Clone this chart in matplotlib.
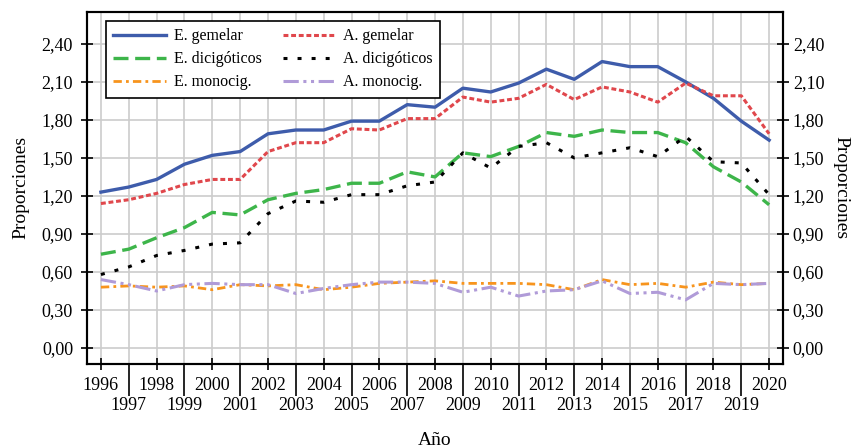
import numpy as np
import matplotlib
matplotlib.use("Agg")
import matplotlib.pyplot as plt
from matplotlib.ticker import FixedLocator, FuncFormatter

plt.rcParams['font.family'] = ['Liberation Serif', 'DejaVu Serif']

# Datos: proporciones anuales
anios = list(range(1996, 2021))

e_gemelar = [1.23, 1.27, 1.33, 1.45, 1.52, 1.55, 1.69, 1.72, 1.72, 1.79, 1.79, 1.92, 1.90,
             2.05, 2.02, 2.09, 2.20, 2.12, 2.26, 2.22, 2.22, 2.10, 1.97, 1.79, 1.64]
a_gemelar = [1.14, 1.17, 1.22, 1.29, 1.33, 1.33, 1.55, 1.62, 1.62, 1.73, 1.72, 1.81, 1.81,
             1.98, 1.94, 1.97, 2.08, 1.96, 2.06, 2.02, 1.94, 2.09, 1.99, 1.99, 1.69]
e_dicig = [0.74, 0.78, 0.87, 0.95, 1.07, 1.05, 1.17, 1.22, 1.25, 1.30, 1.30, 1.39, 1.35,
           1.54, 1.51, 1.59, 1.70, 1.67, 1.72, 1.70, 1.70, 1.62, 1.43, 1.31, 1.13]
a_dicig = [0.58, 0.64, 0.73, 0.77, 0.82, 0.83, 1.06, 1.16, 1.15, 1.21, 1.21, 1.28, 1.31,
           1.54, 1.42, 1.59, 1.62, 1.50, 1.54, 1.58, 1.51, 1.67, 1.47, 1.46, 1.21]
e_monocig = [0.48, 0.49, 0.48, 0.49, 0.46, 0.50, 0.49, 0.50, 0.46, 0.48, 0.51, 0.52, 0.53,
             0.51, 0.51, 0.51, 0.50, 0.46, 0.54, 0.50, 0.51, 0.48, 0.52, 0.50, 0.51]
a_monocig = [0.54, 0.50, 0.45, 0.50, 0.51, 0.50, 0.50, 0.43, 0.47, 0.50, 0.52, 0.52, 0.51,
             0.44, 0.48, 0.41, 0.45, 0.46, 0.53, 0.43, 0.44, 0.38, 0.51, 0.50, 0.51]

fig = plt.figure(figsize=(8.53, 4.48), dpi=100)
ax = fig.add_axes([0.102, 0.1875, 0.816, 0.786])

ax.plot(anios, e_gemelar, color='#3E5CAB', lw=2.4, label='E. gemelar')
ax.plot(anios, e_dicig, color='#3DB54A', lw=2.4, dashes=(4.5, 2.0), label='E. dicigóticos')
ax.plot(anios, e_monocig, color='#F7941D', lw=2.0, dashes=(3, 1.5, 1, 1.5), label='E. monocig.')
ax.plot(anios, a_gemelar, color='#E0474C', lw=2.2, dashes=(1.6, 0.9), label='A. gemelar')
ax.plot(anios, a_dicig, color='black', lw=2.2, dashes=(1.3, 3.3), label='A. dicigóticos')
ax.plot(anios, a_monocig, color='#B09BD8', lw=2.2, dashes=(5, 1.5, 1, 1.5, 1, 1.5), label='A. monocig.')

ax.set_xlim(1995.5, 2020.5)
ax.set_ylim(-0.126, 2.652)

yt = np.arange(0, 2.41, 0.3)
fmt = FuncFormatter(lambda v, p: f'{v:.2f}'.replace('.', ','))
ax.set_yticks(yt)
ax.yaxis.set_major_formatter(fmt)
ax.tick_params(axis='y', direction='inout', length=8, width=1.2, labelsize=13, pad=6)

# años pares arriba, impares abajo con separadores largos
ax.xaxis.set_major_locator(FixedLocator(anios[::2]))
ax.xaxis.set_minor_locator(FixedLocator(anios[1::2]))
ax.xaxis.set_minor_formatter(FuncFormatter(lambda v, p: f'{int(v)}'))
ax.tick_params(axis='x', which='major', direction='inout', length=8, width=1.2, labelsize=13, pad=5)
ax.tick_params(axis='x', which='minor', direction='out', length=23, width=1.2, labelsize=13, pad=1)

ax.grid(True, which='both', axis='x', color='#CCCCCC', lw=1.2)
ax.grid(True, which='major', axis='y', color='#CCCCCC', lw=1.2)
ax.set_axisbelow(True)

for s in ax.spines.values():
    s.set_linewidth(1.5)
    s.set_color('black')

ax.set_ylabel('Proporciones', fontsize=14, labelpad=9)
ax.set_xlabel('Año', fontsize=14, labelpad=13)

ax2 = ax.twinx()
ax2.set_ylim(ax.get_ylim())
ax2.set_yticks(yt)
ax2.yaxis.set_major_formatter(fmt)
ax2.tick_params(axis='y', direction='inout', length=8, width=1.2, labelsize=13, pad=3)
ax2.set_ylabel('Proporciones', fontsize=14, rotation=270, labelpad=18)
for s in ax2.spines.values():
    s.set_linewidth(1.5)

leg = ax.legend(ncol=2, loc='upper left', bbox_to_anchor=(0.016, 0.997), fontsize=11.5,
                frameon=True, fancybox=False, framealpha=1, edgecolor='black',
                handlelength=3.3, columnspacing=1.3, borderpad=0.45, labelspacing=0.45,
                handletextpad=0.5)
leg.get_frame().set_linewidth(1.2)

fig.savefig('out.png', dpi=100)
